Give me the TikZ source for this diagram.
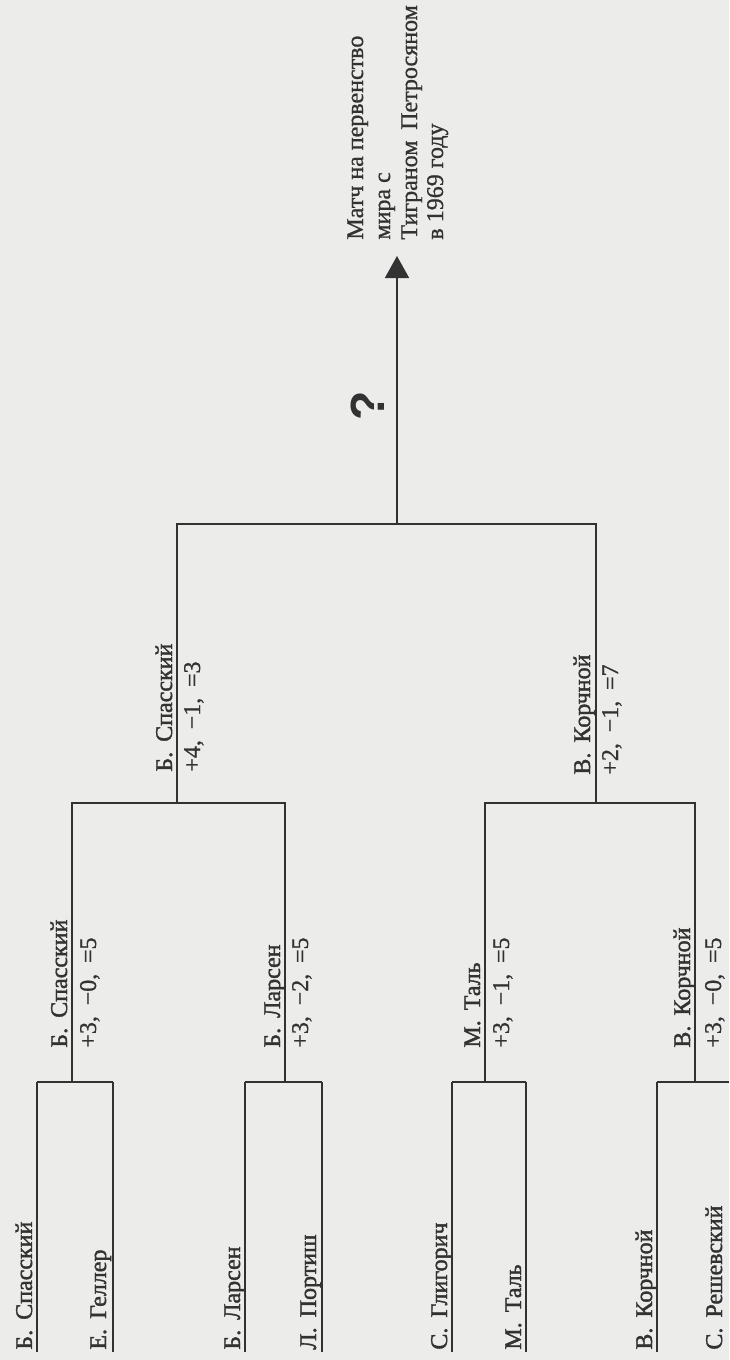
\documentclass[tikz,border=0pt]{standalone}
\usepackage{fontspec}
\setmainfont{Liberation Serif}
\newfontfamily\namefont{Liberation Serif}[FakeBold=1.6]
\newfontfamily\plainlbl{Liberation Serif}[FakeBold=0.9]
\newfontfamily\qfont{Liberation Sans}
\usetikzlibrary{arrows.meta}
\definecolor{paper}{RGB}{236,236,234}
\definecolor{ink}{RGB}{50,50,50}
\newcommand{\ini}[2]{#1.\hspace{0.42em}#2}
\newcommand{\score}[3]{+#1,\hspace{0.45em}−#2,\hspace{0.45em}=#3}
\begin{document}
\begin{tikzpicture}[x=0.5pt,y=-0.5pt,
  rule/.style={draw=ink,line width=0.85pt},
  heavyrule/.style={draw=ink,line width=1.1pt},
  lbl/.style={rotate=90,inner sep=0pt,anchor=base west,text=ink,font=\plainlbl\fontsize{12}{14}\selectfont},
  namelbl/.style={lbl,font=\namefont\fontsize{12}{14}\selectfont},
  qmark/.style={rotate=90,inner sep=0pt,text=ink,font=\qfont\bfseries\fontsize{24}{26}\selectfont},
]
\fill[paper] (0,0) rectangle (729,1360);
\useasboundingbox (0,0) rectangle (729,1360);

% ---- round 1 player lines
\coordinate (p1t) at (37,1082);  \coordinate (p1b) at (37,1352);
\coordinate (p2t) at (113,1082); \coordinate (p2b) at (113,1352);
\coordinate (p3t) at (245,1082); \coordinate (p3b) at (245,1352);
\coordinate (p4t) at (322,1082); \coordinate (p4b) at (322,1352);
\coordinate (p5t) at (452,1082); \coordinate (p5b) at (452,1352);
\coordinate (p6t) at (526,1082); \coordinate (p6b) at (526,1352);
\coordinate (p7t) at (657,1082); \coordinate (p7b) at (657,1352);
\coordinate (p8t) at (729,1082);

\draw[rule] (p1t) -- (p2t);
\draw[rule] (p3t) -- (p4t);
\draw[rule] (p5t) -- (p6t);
\draw[rule] (p7t) -- (p8t);
\draw[rule] (p1b) -- (p1t);
\draw[heavyrule] (p2b) -- (p2t);
\draw[heavyrule] (p3b) -- (p3t);
\draw[heavyrule] (p4b) -- (p4t);
\draw[rule] (p5b) -- (p5t);
\draw[heavyrule] (p6b) -- (p6t);
\draw[rule] (p7b) -- (p7t);

\node[namelbl] (n1) at (32,1350)  {\ini{Б}{Спасский}};
\node[namelbl] (n2) at (106,1350) {\ini{Е}{Геллер}};
\node[namelbl] (n3) at (240,1350) {\ini{Б}{Ларсен}};
\node[namelbl] (n4) at (316,1350) {\ini{Л}{Портиш}};
\node[namelbl] (n5) at (447,1350) {\ini{С}{Глигорич}};
\node[namelbl] (n6) at (521,1350) {\ini{М}{Таль}};
\node[namelbl] (n7) at (652,1350) {\ini{В}{Корчной}};
\node[namelbl] (n8) at (722,1350) {\ini{С}{Решевский}};

% ---- round 1 winners
\coordinate (w1b) at (72,1082);  \coordinate (w1t) at (72,803);
\coordinate (w2b) at (285,1082); \coordinate (w2t) at (285,803);
\coordinate (w3b) at (485,1082); \coordinate (w3t) at (485,803);
\coordinate (w4b) at (695,1082); \coordinate (w4t) at (695,803);

\draw[rule] (w1b) -- (w1t) -- (w2t) -- (w2b);
\draw[rule] (w3b) -- (w3t) -- (w4t) -- (w4b);

\node[namelbl] (r1a) at (67,1048)  {\ini{Б}{Спасский}};
\node[lbl] (r1b) at (96,1048)  {\score{3}{0}{5}};
\node[namelbl] (r2a) at (280,1048) {\ini{Б}{Ларсен}};
\node[lbl] (r2b) at (308,1048) {\score{3}{2}{5}};
\node[namelbl] (r3a) at (480,1048) {\ini{М}{Таль}};
\node[lbl] (r3b) at (509,1048) {\score{3}{1}{5}};
\node[namelbl] (r4a) at (690,1048) {\ini{В}{Корчной}};
\node[lbl] (r4b) at (721,1048) {\score{3}{0}{5}};

% ---- round 2 winners
\coordinate (v1b) at (177,803); \coordinate (v1t) at (177,524);
\coordinate (v2b) at (596,803); \coordinate (v2t) at (596,524);
\draw[rule] (v1b) -- (v1t) -- (v2t) -- (v2b);

\node[namelbl] (s1a) at (172,772) {\ini{Б}{Спасский}};
\node[lbl] (s1b) at (200,772) {\score{4}{1}{3}};
\node[namelbl] (s2a) at (590,775) {\ini{В}{Корчной}};
\node[lbl] (s2b) at (618,775) {\score{2}{1}{7}};

% ---- final
\coordinate (fb) at (397,524);
\coordinate (ft) at (397,256);
\draw[rule,-{Triangle[width=12pt,length=11pt]}] (fb) -- (ft);
\node[qmark] (q) at (368,406) {?};

\node[lbl] (h1) at (363,240) {Матч на первенство};
\node[lbl] (h2) at (390,240) {мира с};
\node[lbl] (h3) at (417,240) {Тиграном\hspace{0.45em}Петросяном};
\node[lbl] (h4) at (443,240) {в 1969 году};
\end{tikzpicture}
\end{document}
